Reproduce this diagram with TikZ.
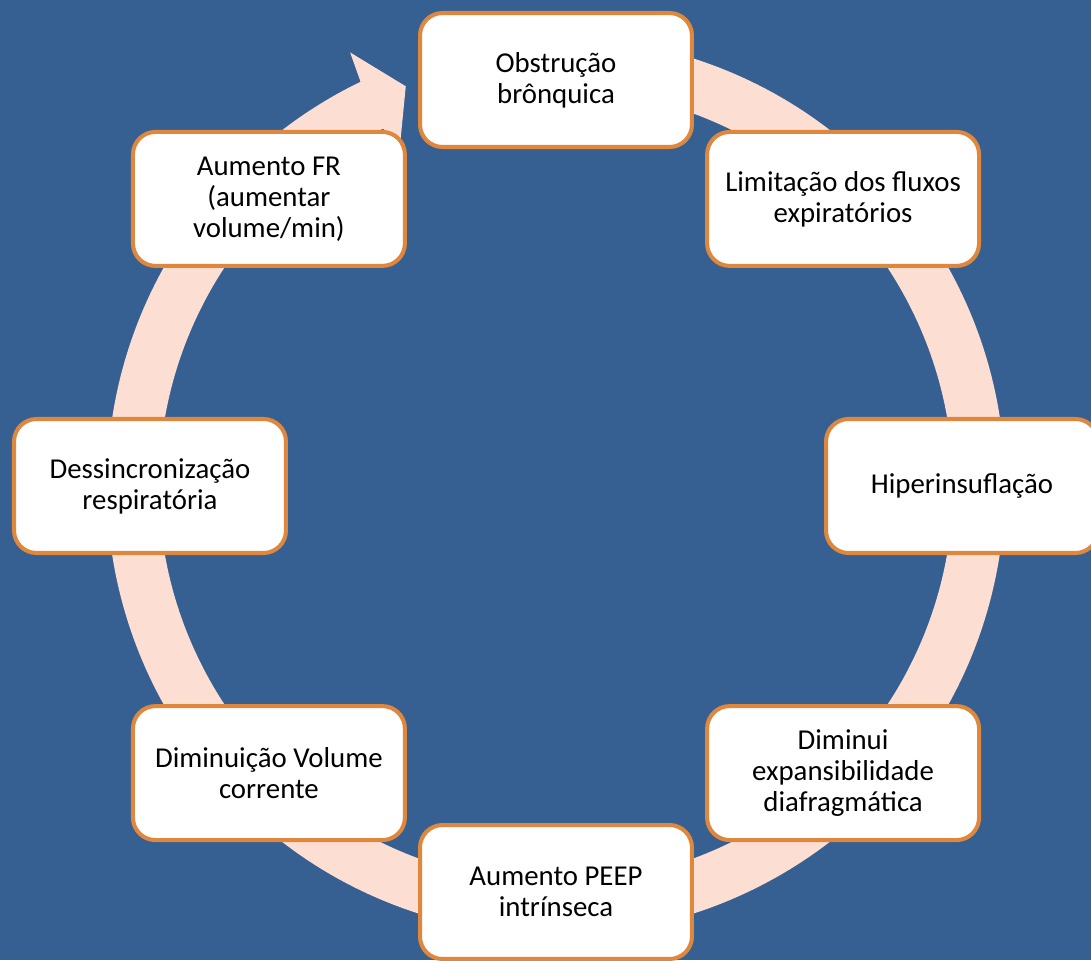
\documentclass[tikz,border=0pt]{standalone}
\usepackage{fontspec}
\setmainfont{Carlito}
\usepackage{tikz}
\definecolor{bgblue}{RGB}{54,96,145}
\definecolor{boxorange}{RGB}{224,135,62}
\definecolor{ringpeach}{RGB}{252,222,210}

\begin{document}
\begin{tikzpicture}[x=0.02cm,y=0.02cm,
	font=\fontsize{16.4}{17.6}\selectfont]
	\tikzstyle{box}=[draw=boxorange,line width=2.3pt,fill=white,rounded corners=0.45cm,
	minimum width=5.44cm,minimum height=2.68cm,align=center,text=black]
	
	\fill[bgblue] (-556,-474) rectangle (535,486);
	\useasboundingbox (-556,-474) rectangle (535,486);
	
	% ring with arrow head
	\fill[ringpeach] (80:449) arc[start angle=80,end angle=-244.2,radius=449]
	-- (-244.6:480) -- (-249.4:427) -- (-244.6:366) -- (-244.2:397)
	arc[start angle=-244.2,end angle=80,radius=397] -- cycle;
	
	\node[box] (A) at (90:406)   {Obstrução\\brônquica};
	\node[box] (B) at (45:406)   {Limitação dos fluxos\\expiratórios};
	\node[box] (C) at (0:406)    {Hiperinsuflação};
	\node[box] (D) at (-45:406)  {Diminui\\expansibilidade\\diafragmática};
	\node[box] (E) at (-90:406)  {Aumento PEEP\\intrínseca};
	\node[box] (F) at (-135:406) {Diminuição Volume\\corrente};
	\node[box] (G) at (180:406)  {Dessincronização\\respiratória};
	\node[box] (H) at (135:406)  {Aumento FR\\(aumentar\\volume/min)};
	
\end{tikzpicture}
\end{document}
